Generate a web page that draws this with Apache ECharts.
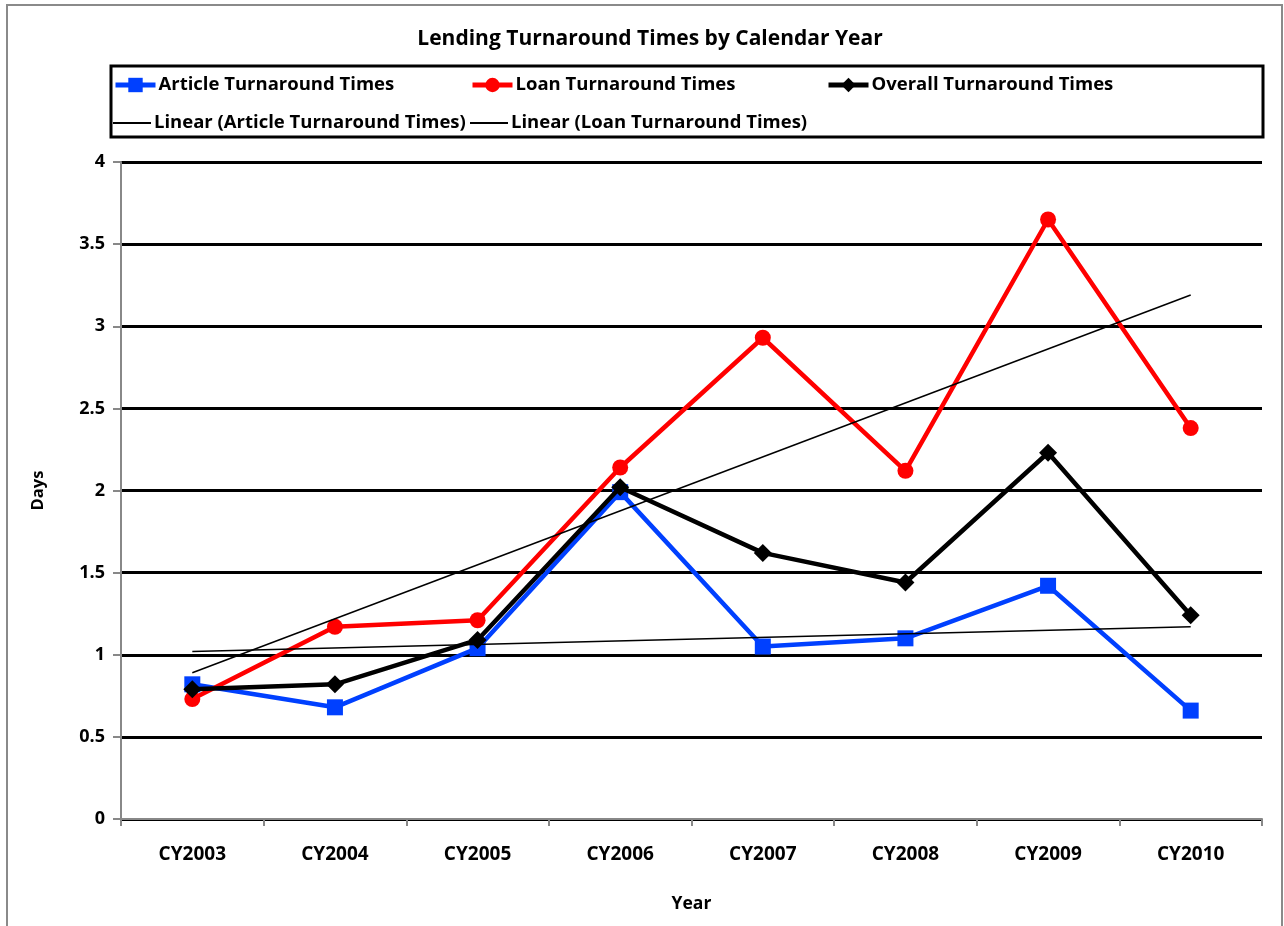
<!DOCTYPE html>
<html><head><meta charset="utf-8">
<script src="https://cdn.jsdelivr.net/npm/echarts@6/dist/echarts.min.js"></script>
<style>html,body{margin:0;padding:0;background:#fff}#c{width:1284px;height:926px}</style>
</head><body><div id="c"></div>
<script>
var categories = ['CY2003','CY2004','CY2005','CY2006','CY2007','CY2008','CY2009','CY2010'];
var articleTimes = [0.82, 0.68, 1.04, 1.99, 1.05, 1.10, 1.42, 0.66];
var loanTimes = [0.73, 1.17, 1.21, 2.14, 2.93, 2.12, 3.65, 2.38];
var overallTimes = [0.79, 0.82, 1.09, 2.02, 1.62, 1.44, 2.23, 1.24];
var articleTrend = [1.02, null, null, null, null, null, null, 1.17];
var loanTrend = [0.89, null, null, null, null, null, null, 3.19];
var yTicks = [0, 0.5, 1, 1.5, 2, 2.5, 3, 3.5, 4];

var F = '"Open Sans", "Noto Sans", sans-serif';
var names = ['Article Turnaround Times','Loan Turnaround Times','Overall Turnaround Times',
  'Linear (Article Turnaround Times)','Linear (Loan Turnaround Times)'];
var legPos = [[113,74],[470,74],[826,74],[113,112],[470,112]];
function mkLegend(i){
  var trend = i >= 3;
  var lg = {data:[trend ? {name:names[i], icon:'rect'} : names[i]], left:legPos[i][0], top:legPos[i][1],
    itemWidth: trend ? 38 : 40, itemHeight: trend ? 2 : 18, itemGap:0, padding:0,
    textStyle:{fontFamily:F, fontWeight:'bold', fontSize:18.5, color:'#000', padding:[0,0,0,-2], lineHeight:22}};
  if (trend) { lg.itemStyle = {color:'#000'}; } else { lg.lineStyle = {width:5}; }
  return lg;
}
var chart = echarts.init(document.getElementById('c'));
chart.setOption({
  animation:false,
  title:{text:'Lending Turnaround Times by Calendar Year', left:645, textAlign:'center', top:24,
    textStyle:{fontFamily:F, fontWeight:'bold', fontSize:21, color:'#000'}},
  graphic:[
    {type:'rect', shape:{x:7,y:5,width:1275,height:940}, style:{fill:'none', stroke:'#8a8a8a', lineWidth:2}, silent:true, z:-10},
    {type:'rect', shape:{x:111,y:66,width:1152,height:71}, style:{fill:'none', stroke:'#000', lineWidth:3}, silent:true}
  ],
  legend:[mkLegend(0),mkLegend(1),mkLegend(2),mkLegend(3),mkLegend(4)],
  grid:{left:121, right:22, top:162, bottom:107},
  xAxis:{type:'category', data:categories, boundaryGap:true,
    name:'Year', nameLocation:'middle', nameGap:76,
    nameTextStyle:{fontFamily:F, fontWeight:'bold', fontSize:17.5, color:'#000'},
    axisLine:{lineStyle:{color:'#888', width:2}},
    axisTick:{show:true, length:7, lineStyle:{color:'#888', width:2}},
    axisLabel:{fontFamily:F, fontWeight:'bold', fontSize:19, color:'#000', margin:26},
    splitLine:{show:false}},
  yAxis:{type:'value', min:yTicks[0], max:yTicks[yTicks.length-1], interval:0.5,
    name:'Days', nameLocation:'middle', nameGap:74, nameRotate:90,
    nameTextStyle:{fontFamily:F, fontWeight:'bold', fontSize:16.5, color:'#000'},
    axisLine:{show:true, lineStyle:{color:'#888', width:2}},
    axisTick:{show:true, length:8, lineStyle:{color:'#888', width:2}},
    axisLabel:{fontFamily:F, fontWeight:'bold', fontSize:18, color:'#000', margin:16,
      formatter:function(v){return String(v);}},
    splitLine:{show:true, lineStyle:{color:'#000', width:3}}},
  series:[
    {name:names[0], type:'line', data:articleTimes, symbol:'rect', symbolSize:16,
      lineStyle:{color:'#0040ff', width:4.5}, itemStyle:{color:'#0040ff'}, z:3},
    {name:names[1], type:'line', data:loanTimes, symbol:'circle', symbolSize:16,
      lineStyle:{color:'#ff0000', width:4.5}, itemStyle:{color:'#ff0000'}, z:3},
    {name:names[2], type:'line', data:overallTimes, symbol:'diamond', symbolSize:18,
      lineStyle:{color:'#000', width:4.5}, itemStyle:{color:'#000'}, z:4},
    {name:names[3], type:'line', data:articleTrend, connectNulls:true, symbol:'none',
      lineStyle:{color:'#000', width:1.5}, itemStyle:{color:'#000'}, z:5},
    {name:names[4], type:'line', data:loanTrend, connectNulls:true, symbol:'none',
      lineStyle:{color:'#000', width:1.5}, itemStyle:{color:'#000'}, z:5}
  ]
});
</script></body></html>
